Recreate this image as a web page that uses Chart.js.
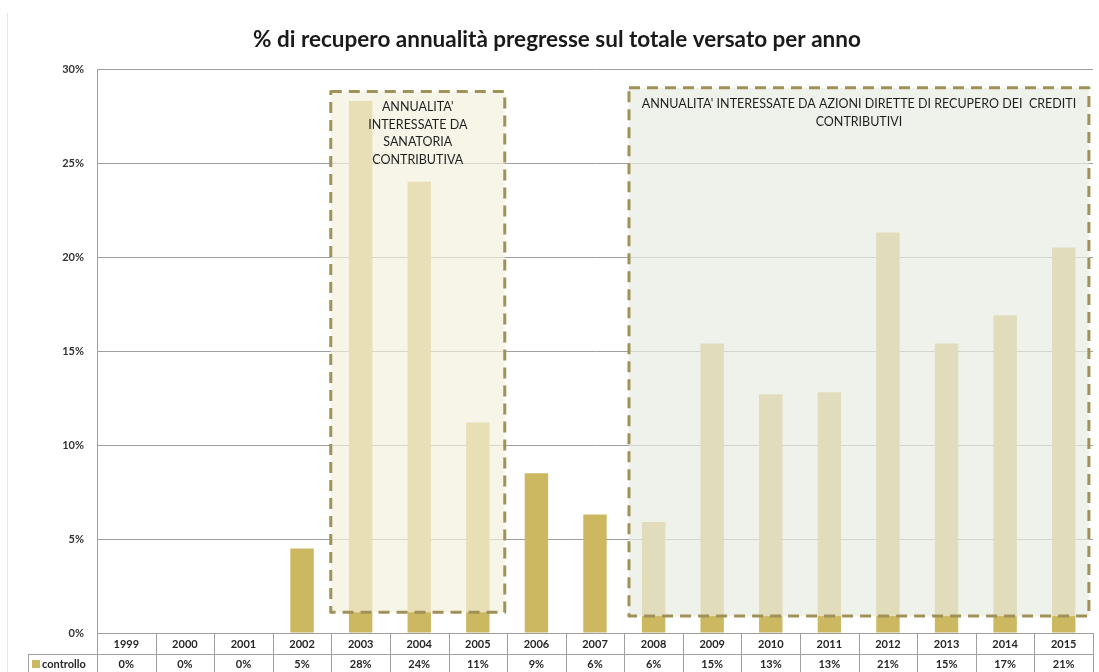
<!DOCTYPE html>
<html lang="it">
<head>
<meta charset="utf-8">
<title>% di recupero annualità pregresse</title>
<script src="https://cdn.jsdelivr.net/npm/chart.js@4.4.1/dist/chart.umd.min.js"></script>
<style>
  html, body { margin: 0; padding: 0; background: #ffffff; }
  #wrap { width: 1099px; height: 672px; }
</style>
</head>
<body>
<div id="wrap"><canvas id="myChart" width="1099" height="672"></canvas></div>
<script>
// Dati
const anni = ["1999", "2000", "2001", "2002", "2003", "2004", "2005", "2006", "2007",
  "2008", "2009", "2010", "2011", "2012", "2013", "2014", "2015"];
const controllo = [0, 0, 0, 4.5, 28.3, 24.0, 11.2, 8.5, 6.3,
  5.9, 15.4, 12.7, 12.8, 21.3, 15.4, 16.9, 20.5];
const etichetteTabella = ["0%", "0%", "0%", "5%", "28%", "24%", "11%", "9%", "6%",
  "6%", "15%", "13%", "13%", "21%", "15%", "17%", "21%"];
const tickY = [0, 5, 10, 15, 20, 25, 30];

const titolo = "% di recupero annualità pregresse sul totale versato per anno";
const testoSanatoria = ["ANNUALITA'", "INTERESSATE DA", "SANATORIA", "CONTRIBUTIVA"];
const testoRecupero = ["ANNUALITA' INTERESSATE DA AZIONI DIRETTE DI RECUPERO DEI  CREDITI", "CONTRIBUTIVI"];

const coloreBarre = "#cdb862";
const coloreGriglia = "#9f9f9f";
const font = "Lato, 'Open Sans', sans-serif";

// Riquadri tratteggiati (in unità di categoria e di valore)
const riquadri = [
  { x0: 3.49, x1: 6.46, y0: 1.1, y1: 28.8, fill: "rgba(243,241,221,0.69)", testo: testoSanatoria, yt: 107, lh: 17.7 },
  { x0: 8.58, x1: 16.43, y0: 0.9, y1: 29.0, fill: "rgba(232,237,225,0.71)", testo: testoRecupero, yt: 104, lh: 18 }
];

// Plugin per titolo, riquadri e tabella dati
const pluginExtra = {
  id: "extra",
  beforeDraw(chart) {
    const ctx = chart.ctx;
    ctx.save();
    ctx.strokeStyle = "#e4e4e4";
    ctx.lineWidth = 1;
    ctx.beginPath();
    ctx.moveTo(7.5, 13);
    ctx.lineTo(7.5, 672);
    ctx.stroke();
    ctx.fillStyle = "#1a1a1a";
    ctx.font = "bold 22.5px " + font;
    ctx.textAlign = "center";
    ctx.textBaseline = "middle";
    ctx.fillText(titolo, 557, 40);
    ctx.restore();
  },
  afterDatasetsDraw(chart) {
    const ctx = chart.ctx;
    const x = chart.scales.x;
    const y = chart.scales.y;
    ctx.save();
    for (const r of riquadri) {
      const left = x.getPixelForValue(r.x0);
      const right = x.getPixelForValue(r.x1);
      const top = y.getPixelForValue(r.y1);
      const bottom = y.getPixelForValue(r.y0);
      ctx.fillStyle = r.fill;
      ctx.fillRect(left, top, right - left, bottom - top);
      ctx.setLineDash([11, 7]);
      ctx.lineWidth = 3;
      ctx.lineJoin = "round";
      ctx.strokeStyle = "#a09158";
      ctx.strokeRect(left, top, right - left, bottom - top);
      ctx.setLineDash([]);
      ctx.fillStyle = "#1f1f1f";
      ctx.font = "12.5px " + font;
      ctx.textAlign = "center";
      ctx.textBaseline = "middle";
      const cx = (left + right) / 2;
      r.testo.forEach((riga, i) => ctx.fillText(riga, cx, r.yt + i * r.lh));
    }
    ctx.restore();
  },
  afterDraw(chart) {
    const ctx = chart.ctx;
    const x = chart.scales.x;
    const area = chart.chartArea;
    const w = (area.right - area.left) / anni.length;
    const riga1 = area.bottom;
    const riga2 = area.bottom + 21;
    const fine = 680;
    ctx.save();
    ctx.strokeStyle = coloreGriglia;
    ctx.lineWidth = 1;
    ctx.beginPath();
    for (let i = 0; i <= anni.length; i++) {
      const px = Math.round(area.left + i * w) + 0.5;
      ctx.moveTo(px, riga1);
      ctx.lineTo(px, fine);
    }
    ctx.moveTo(28.5, riga2 + 0.5);
    ctx.lineTo(area.right, riga2 + 0.5);
    ctx.moveTo(28.5, riga2);
    ctx.lineTo(28.5, fine);
    ctx.stroke();

    ctx.fillStyle = "#262626";
    ctx.font = "bold 11px " + font;
    ctx.textAlign = "center";
    ctx.textBaseline = "middle";
    anni.forEach((anno, i) => {
      const cx = x.getPixelForValue(i);
      ctx.fillText(anno, cx, riga1 + 11);
      ctx.fillText(etichetteTabella[i], cx, riga2 + 10);
    });
    ctx.fillStyle = coloreBarre;
    ctx.fillRect(32, riga2 + 6, 8, 8);
    ctx.fillStyle = "#262626";
    ctx.textAlign = "left";
    ctx.fillText("controllo", 42, riga2 + 10);
    ctx.restore();
  }
};

const config = {
  type: "bar",
  data: {
    labels: anni,
    datasets: [{
      label: "controllo",
      data: controllo,
      backgroundColor: coloreBarre,
      borderWidth: 0,
      barPercentage: 0.4,
      categoryPercentage: 1.0
    }]
  },
  options: {
    responsive: false,
    animation: false,
    layout: { padding: { top: 69, bottom: 39, left: 0, right: 6 } },
    scales: {
      x: { display: false },
      y: {
        min: 0,
        max: 30,
        afterFit(scale) { scale.width = 97; },
        afterBuildTicks(scale) { scale.ticks = tickY.map(v => ({ value: v })); },
        grid: { color: coloreGriglia, lineWidth: 1, drawTicks: false },
        border: { color: coloreGriglia, width: 1 },
        ticks: {
          padding: 13,
          color: "#333333",
          font: { family: font, size: 11, weight: "bold" },
          callback: v => v + "%"
        }
      }
    },
    plugins: {
      legend: { display: false },
      title: { display: false },
      tooltip: { enabled: false }
    }
  },
  plugins: [pluginExtra]
};

new Chart(document.getElementById("myChart"), config);
</script>
</body>
</html>
